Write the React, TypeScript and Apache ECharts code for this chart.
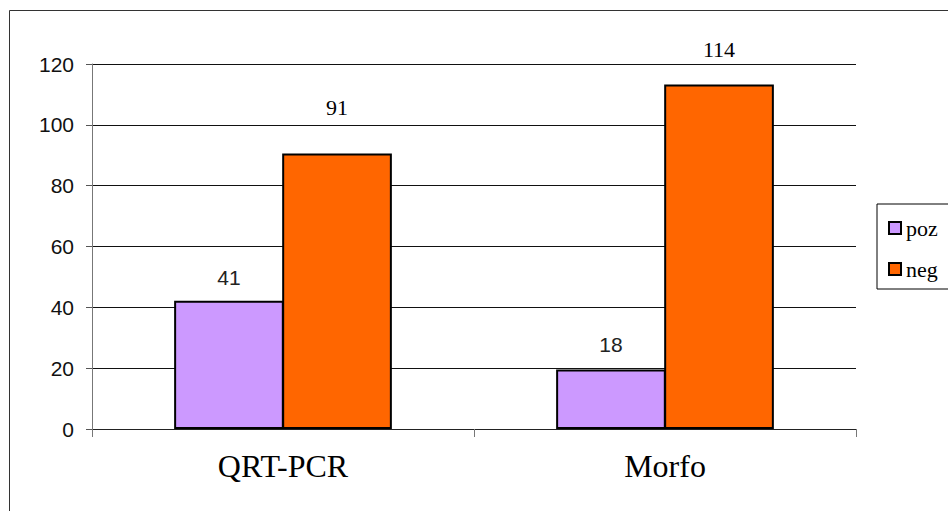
import React, { useEffect, useRef } from "react";
import * as echarts from "echarts";

const categories = ["QRT-PCR", "Morfo"];
const seriesNames = ["poz", "neg"];
// bar heights as drawn in the picture
const pozValues = [42.2, 19.6];
const negValues = [90.6, 113.3];
// value labels as printed above the bars
const pozLabels = ["41", "18"];
const negLabels = ["91", "114"];
const yTicks = [0, 20, 40, 60, 80, 100, 120];

export default function App() {
  const ref = useRef<HTMLDivElement>(null);
  useEffect(() => {
    if (!ref.current) return;
    const chart = echarts.init(ref.current, null, { renderer: "svg" });
    const sans = "Liberation Sans";
    const serif = "Liberation Serif";
    const pozDist = [13, 14];
    const negDist = [35, 24];
    const pozLabelStyle = { fontFamily: sans, fontSize: 21, color: "#222" };
    const negLabelStyle = { fontFamily: serif, fontSize: 22, color: "#000" };
    chart.setOption({
      animation: false,
      backgroundColor: "#ffffff",
      textStyle: { fontFamily: sans },
      graphic: [
        {
          type: "rect",
          shape: { x: 9.5, y: 10.5, width: 960, height: 530 },
          style: { fill: "none", stroke: "#333", lineWidth: 1 },
          silent: true,
        },
      ],
      grid: { left: 92, right: 92, top: 64, bottom: 82, containLabel: false },
      legend: {
        orient: "vertical",
        left: 877,
        top: 204,
        padding: [13, 12, 9, 11],
        itemGap: 19,
        itemWidth: 12,
        itemHeight: 12,
        icon: "rect",
        borderColor: "#000",
        borderWidth: 1,
        textStyle: { fontFamily: serif, fontSize: 22, color: "#000" },
        data: seriesNames.map((n) => ({
          name: n,
          itemStyle: { borderColor: "#000", borderWidth: 2 },
          textStyle: { fontFamily: serif, fontSize: 22, color: "#000" },
        })),
      },
      xAxis: {
        type: "category",
        data: categories,
        boundaryGap: true,
        axisLine: { lineStyle: { color: "#222", width: 1 } },
        axisTick: { show: true, length: 8, lineStyle: { color: "#777" } },
        axisLabel: { fontFamily: serif, fontSize: 32, color: "#000", margin: 21 },
        splitLine: { show: false },
      },
      yAxis: {
        type: "value",
        min: 0,
        max: yTicks[yTicks.length - 1],
        interval: yTicks[1] - yTicks[0],
        axisLine: { show: true, lineStyle: { color: "#777", width: 1 } },
        axisTick: { show: true, length: 6, lineStyle: { color: "#555" } },
        axisLabel: { fontFamily: sans, fontSize: 21, color: "#111", margin: 18 },
        splitLine: { show: true, lineStyle: { color: "#111", width: 1 } },
      },
      series: [
        {
          name: seriesNames[0],
          type: "bar",
          barGap: "-1.5%",
          barCategoryGap: "43%",
          itemStyle: { color: "#CC99FF", borderColor: "#000", borderWidth: 2 },
          label: {
            show: true,
            position: "top",
            ...pozLabelStyle,
            formatter: (p: any) => "{t|" + pozLabels[p.dataIndex] + "}",
            rich: { t: pozLabelStyle },
          },
          data: pozValues.map((v, i) => ({
            value: v,
            label: { distance: pozDist[i] },
          })),
        },
        {
          name: seriesNames[1],
          type: "bar",
          barGap: "-1.5%",
          barCategoryGap: "43%",
          itemStyle: { color: "#FF6600", borderColor: "#000", borderWidth: 2 },
          label: {
            show: true,
            position: "top",
            ...negLabelStyle,
            formatter: (p: any) => "{t|" + negLabels[p.dataIndex] + "}",
            rich: { t: negLabelStyle },
          },
          data: negValues.map((v, i) => ({
            value: v,
            label: { distance: negDist[i] },
          })),
        },
      ],
    });
    return () => chart.dispose();
  }, []);
  return (
    <div
      ref={ref}
      style={{ position: "fixed", left: 0, top: 0, width: 948, height: 511 }}
    />
  );
}
